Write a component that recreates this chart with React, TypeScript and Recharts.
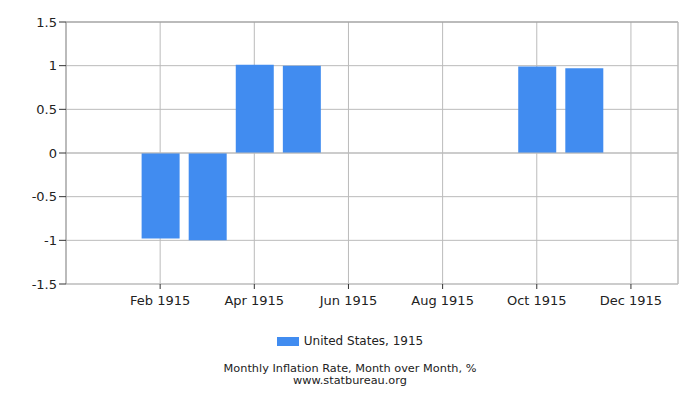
import { BarChart, Bar, XAxis, YAxis, CartesianGrid, ReferenceLine } from 'recharts'

const MONTHS = ['Jan', 'Feb', 'Mar', 'Apr', 'May', 'Jun', 'Jul', 'Aug', 'Sep', 'Oct', 'Nov', 'Dec']
const RATES: (number | null)[] = [null, -0.98, -1.0, 1.01, 1.0, null, null, null, null, 0.99, 0.97, null]
const X_TICKS = [2, 4, 6, 8, 10, 12]
const Y_TICKS = [-1.5, -1, -0.5, 0, 0.5, 1, 1.5]
const YEAR = 1915

const data = MONTHS.map((m, i) => ({ idx: i + 1, month: m, rate: RATES[i] }))

const FONT = '"DejaVu Sans", Verdana, sans-serif'
const BAR_COLOR = '#418cf0'

export default function App() {
  return (
    <div style={{ position: 'relative', width: 700, height: 400, fontFamily: FONT, background: '#fff' }}>
      <style>{'body{margin:0}'}</style>
      <BarChart width={700} height={400} data={data} margin={{ top: 22, right: 22, bottom: 87, left: 0 }}>
        <CartesianGrid stroke="#bbb" strokeWidth={1} />
        <XAxis
          dataKey="idx"
          type="number"
          domain={[0, 13]}
          ticks={X_TICKS}
          tickFormatter={v => `${MONTHS[v - 1]} ${YEAR}`}
          tick={{ fill: '#222', fontSize: 13, fontFamily: FONT }}
          axisLine={{ stroke: '#bbb' }}
          tickLine={{ stroke: '#333' }}
          tickSize={5}
          tickMargin={7}
          height={29}
        />
        <YAxis
          domain={[-1.5, 1.5]}
          ticks={Y_TICKS}
          tick={{ fill: '#222', fontSize: 13, fontFamily: FONT }}
          axisLine={{ stroke: '#999' }}
          tickLine={{ stroke: '#333' }}
          tickSize={7}
          tickMargin={2}
          width={66}
          allowDataOverflow
        />
        <ReferenceLine y={1.5} stroke="#999" />
        <ReferenceLine x={13} stroke="#bbb" />
        <ReferenceLine y={0} stroke="#bbb" />
        <Bar dataKey="rate" fill={BAR_COLOR} barSize={38} isAnimationActive={false} />
      </BarChart>

      <div style={{ position: 'absolute', top: 334, left: 0, width: 700, display: 'flex', justifyContent: 'center', alignItems: 'center', fontSize: 12, color: '#222' }}>
        <span style={{ display: 'inline-block', width: 22, height: 9, background: BAR_COLOR, marginRight: 5 }} />
        <span>United States, {YEAR}</span>
      </div>
      <div style={{ position: 'absolute', top: 363, left: 0, width: 700, textAlign: 'center', fontSize: 11.3, lineHeight: '12px', color: '#222' }}>
        <div>Monthly Inflation Rate, Month over Month, %</div>
        <div>www.statbureau.org</div>
      </div>
    </div>
  )
}
